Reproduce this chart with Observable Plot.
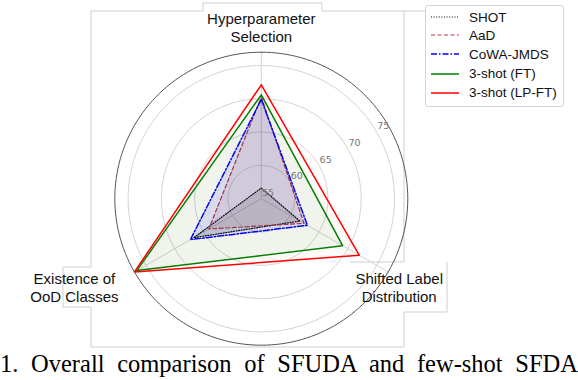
<!DOCTYPE html>
<html><head><meta charset="utf-8">
<script src="https://cdn.jsdelivr.net/npm/d3@7"></script>
<script src="https://cdn.jsdelivr.net/npm/@observablehq/plot@0.6"></script>
<style>
html,body{margin:0;padding:0;background:#fff;}
#wrap{position:relative;width:578px;height:380px;overflow:hidden;font-family:"Liberation Sans",Arial,sans-serif;}
#frame{position:absolute;left:0;top:0;}
#chart{position:absolute;left:0;top:0;}
#chart svg{background:transparent !important;}
#legend{position:absolute;left:425px;top:5px;width:137px;height:100px;border:1px solid #d4d4d4;border-radius:3px;background:#fff;}
.row{position:absolute;left:4px;height:18px;display:flex;align-items:center;font-size:13.5px;color:#111;white-space:nowrap;}
.row svg{width:30px;height:10px;margin-right:9px;}
#caption{position:absolute;left:0;top:350px;width:578px;font-family:"Liberation Serif","Times New Roman",serif;font-size:24.5px;line-height:28px;text-align:justify;text-align-last:justify;color:#000;white-space:nowrap;}
</style></head><body><div id="wrap"><svg id="frame" width="578" height="380"></svg><div id="chart"></div><div id="legend"></div><div id="caption">1. Overall comparison of SFUDA and few-shot SFDA</div></div>
<script>
// ---- data ----
const axisNames = ["Hyperparameter\nSelection", "Shifted Label\nDistribution", "Existence of\nOoD Classes"];
const axisAngles = [0, 120, 240]; // degrees clockwise from top
const methods = ["SHOT", "AaD", "CoWA-JMDS", "3-shot (FT)", "3-shot (LP-FT)"];
const shotValues = [56.6, 61.7, 66.7];
const aadValues = [70.3, 62.4, 64.1];
const cowaValues = [69.9, 63.0, 67.3];
const ftValues = [70.6, 69.1, 76.6];
const lpftValues = [72.1, 72.0, 77.0];
const radialTicks = [55, 60, 65, 70, 75];
const rMin = 55, rMax = 77;

// ---- styles ----
const seriesValues = [shotValues, aadValues, cowaValues, ftValues, lpftValues];
const colors = ["#000000", "#b8363c", "#0000ff", "#008000", "#ff0000"];
const dashes = ["1,1.6", "4,2.5", "6,2,1.5,2", null, null];
const widths = [1.2, 1.2, 1.5, 1.5, 1.5];
const fillOps = [0.12, 0.1, 0.1, 0.06, 0.015];

const rad = d => d * Math.PI / 180;
const pt = (v, a) => ({x: (v - rMin) * Math.sin(rad(a)), y: (v - rMin) * Math.cos(rad(a))});

const k = 146.5 / (rMax - rMin), cx = 260.8, cy = 198.2, W = 578, H = 348;

const marks = [];
const circ = r => d3.range(0, 361, 2).map(a => pt(r, a));
for (const t of radialTicks.slice(1)) marks.push(Plot.line(circ(t), {x: "x", y: "y", stroke: "#d3d3d3", strokeWidth: 1}));
marks.push(Plot.link(axisAngles, {x1: 0, y1: 0, x2: a => pt(rMax, a).x, y2: a => pt(rMax, a).y, stroke: "#d3d3d3", strokeWidth: 1}));
seriesValues.forEach((vals, i) => {
  const poly = [...vals, vals[0]].map((v, j) => pt(v, axisAngles[j % 3]));
  marks.push(Plot.line(poly, {x: "x", y: "y", fill: colors[i], fillOpacity: fillOps[i], stroke: "none"}));
  marks.push(Plot.line(poly, {x: "x", y: "y", stroke: colors[i], strokeWidth: widths[i], strokeDasharray: dashes[i] ?? undefined}));
});
marks.push(Plot.line(circ(rMax), {x: "x", y: "y", stroke: "#555", strokeWidth: 1}));
marks.push(Plot.text(radialTicks, {x: t => pt(t, 60).x, y: t => pt(t, 60).y, text: t => String(t), dx: 6.7, dy: -5.7, fill: "#777", fontSize: 9.5, fontFamily: "DejaVu Sans"}));
const labelOffsets = [[0, -25], [11, 15.6], [-60, 15.6]];
axisNames.forEach((name, i) => {
  marks.push(Plot.text([name], {x: pt(rMax, axisAngles[i]).x, y: pt(rMax, axisAngles[i]).y, text: d => d, dx: labelOffsets[i][0], dy: labelOffsets[i][1], fontSize: 15, lineHeight: 1.17, fill: "#111", fontFamily: "Liberation Sans"}));
});

const chart = Plot.plot({
  width: W, height: H, margin: 0,
  x: {domain: [-cx / k, (W - cx) / k], range: [0, W], axis: null},
  y: {domain: [-(H - cy) / k, cy / k], range: [H, 0], axis: null},
  marks
});
document.getElementById("chart").appendChild(chart);

d3.select("#frame").append("path")
  .attr("d", "M91,347 V307 H63 V267 H91 V11 H203 V3 H322 V11 H425 M404,11 V262 H350 M447,262 V312 H404 V347 H91")
  .attr("fill", "none").attr("stroke", "#cfcfcf").attr("stroke-width", 1);

const leg = d3.select("#legend");
const rowY = [16, 34.3, 53.3, 72.7, 91.7];
methods.forEach((m, i) => {
  const row = leg.append("div").attr("class", "row").style("top", (rowY[i] - 5 - 9) + "px");
  const s = row.append("svg");
  s.append("line").attr("x1", 1).attr("x2", 29).attr("y1", 5).attr("y2", 5)
    .attr("stroke", colors[i]).attr("stroke-width", widths[i]).attr("stroke-dasharray", dashes[i]);
  row.append("span").text(m);
});
</script></body></html>
